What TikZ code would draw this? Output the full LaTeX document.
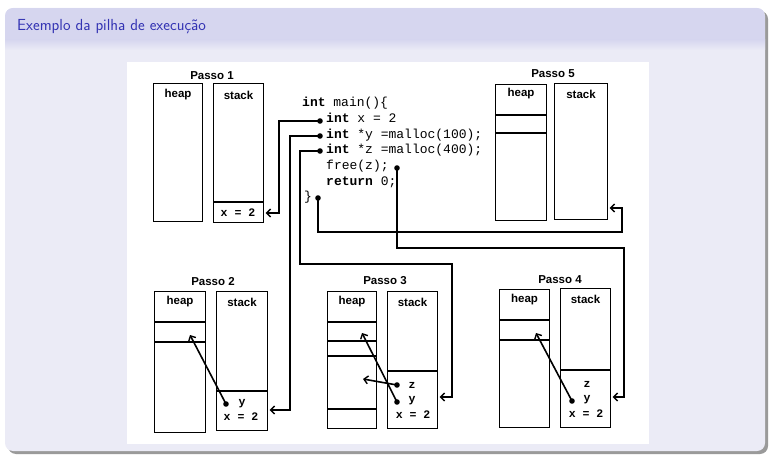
\documentclass[tikz,border=0pt]{standalone}
\usepackage{fontspec}
\newfontfamily\lab{Liberation Sans}
\newfontfamily\code{Liberation Mono}
\usetikzlibrary{arrows.meta}
\definecolor{titlebg}{HTML}{D6D6EF}
\definecolor{bodybg}{HTML}{EBEBF6}
\definecolor{titlefg}{HTML}{3333B3}
\definecolor{shadowc}{HTML}{9A9A9A}
\tikzset{
  box/.style={draw=black, line width=1.1pt, inner sep=0pt, anchor=north west},
  divider/.style={draw=black, line width=1.1pt},
  lbl/.style={font=\lab\bfseries\fontsize{11.5}{13}\selectfont, inner sep=0pt},
  ttl/.style={font=\lab\bfseries\fontsize{11.5}{13}\selectfont, inner sep=0pt},
  val/.style={font=\code\bfseries\fontsize{11.5}{13}\selectfont, inner sep=0pt},
  codeln/.style={font=\code\fontsize{13}{15}\selectfont, inner sep=0pt, anchor=base west},
  wire/.style={draw=black, line width=1.7pt, -{Straight Barb[length=4pt,width=8pt,line width=1.4pt]}},
  ptr/.style={draw=black, line width=1.6pt, -{Straight Barb[length=4pt,width=8pt,line width=1.4pt]}},
  dot/.style={fill=black, circle, inner sep=0pt, minimum size=5.6pt}
}
\begin{document}
\begin{tikzpicture}[x=1pt,y=-1pt]
\useasboundingbox (0,0) rectangle (774,457);
% slide frame
\fill[shadowc, rounded corners=8pt] (8,11) rectangle (768,454);
\fill[bodybg, rounded corners=8pt] (5,8) rectangle (765,451);
\begin{scope}
\clip[rounded corners=8pt] (5,8) rectangle (765,451);
\fill[titlebg] (5,8) rectangle (765,40);
\shade[top color=titlebg, bottom color=bodybg] (5,39.5) rectangle (765,50);
\end{scope}
\node[anchor=base west, inner sep=0pt, text=titlefg, font=\sffamily\fontsize{16}{19}\selectfont] (title) at (17,31) {Exemplo da pilha de execução};
% white figure
\fill[white] (127,62) rectangle (649,444);

% ---------- code ----------
\node[codeln] (c0) at (302,107) {\textbf{int} main()\{};
\node[codeln] (c1) at (326,123) {\textbf{int} x = 2};
\node[codeln] (c2) at (326,139) {\textbf{int} *y =malloc(100);};
\node[codeln] (c3) at (326,154) {\textbf{int} *z =malloc(400);};
\node[codeln] (c4) at (326,170) {free(z);};
\node[codeln] (c5) at (326,186) {\textbf{return} 0;};
\node[codeln] (c6) at (304,201) {\}};
\node[dot] (d1) at (320,121) {};
\node[dot] (d2) at (320,136) {};
\node[dot] (d3) at (320,151) {};
\node[dot] (d4) at (397,168) {};
\node[dot] (d5) at (318,198) {};

% ---------- Passo 1 ----------
\node[ttl] (t1) at (212,76) {Passo 1};
\node[box, minimum width=49pt, minimum height=138pt] (h1) at (153,83) {};
\node[box, minimum width=50pt, minimum height=139pt] (s1) at (213,83) {};
\node[lbl] at (h1.north |- 0,95) {heap};
\node[lbl] at (s1.north |- 0,95) {stack};
\draw[divider] (s1.west |- 0,202) -- (s1.east |- 0,202);
\node[val] (x1) at (238,213) {x = 2};

% ---------- Passo 5 ----------
\node[ttl] (t5) at (553,74) {Passo 5};
\node[box, minimum width=51pt, minimum height=136pt] (h5) at (495,84) {};
\node[box, minimum width=53pt, minimum height=136pt] (s5) at (554,83) {};
\node[lbl] at (h5.north |- 0,94) {heap};
\node[lbl] at (s5.north |- 0,94) {stack};
\draw[divider] (h5.west |- 0,115) -- (h5.east |- 0,115);
\draw[divider] (h5.west |- 0,133) -- (h5.east |- 0,133);

% ---------- Passo 2 ----------
\node[ttl] (t2) at (213,282) {Passo 2};
\node[box, minimum width=51pt, minimum height=141pt] (h2) at (154,291) {};
\node[box, minimum width=51pt, minimum height=139pt] (s2) at (216,291) {};
\node[lbl] at (h2.north |- 0,302) {heap};
\node[lbl] at (s2.north |- 0,302) {stack};
\draw[divider] (h2.west |- 0,322) -- (h2.east |- 0,322);
\draw[divider] (h2.west |- 0,342) -- (h2.east |- 0,342);
\draw[divider] (s2.west |- 0,391) -- (s2.east |- 0,391);
\node[val] (y2) at (242,404) {y};
\node[val] (x2) at (241,417) {x = 2};
\node[dot] (p2) at (226,404) {};
\coordinate (q2) at (190,335);

% ---------- Passo 3 ----------
\node[ttl] (t3) at (385,281) {Passo 3};
\node[box, minimum width=49pt, minimum height=137pt] (h3) at (327,291) {};
\node[box, minimum width=50pt, minimum height=137pt] (s3) at (387,291) {};
\node[lbl] at (h3.north |- 0,302) {heap};
\node[lbl] at (s3.north |- 0,302) {stack};
\draw[divider] (h3.west |- 0,322) -- (h3.east |- 0,322);
\draw[divider] (h3.west |- 0,341) -- (h3.east |- 0,341);
\draw[divider] (h3.west |- 0,356) -- (h3.east |- 0,356);
\draw[divider] (h3.west |- 0,409) -- (h3.east |- 0,409);
\draw[divider] (s3.west |- 0,371) -- (s3.east |- 0,371);
\node[val] (z3) at (412,385) {z};
\node[val] (y3) at (412,401) {y};
\node[val] (x3) at (413,415) {x = 2};
\node[dot] (p3z) at (397,385) {};
\node[dot] (p3y) at (397,402) {};
\coordinate (q3z) at (363,379);
\coordinate (q3y) at (362,333);

% ---------- Passo 4 ----------
\node[ttl] (t4) at (560,280) {Passo 4};
\node[box, minimum width=50pt, minimum height=138pt] (h4) at (499,289) {};
\node[box, minimum width=50pt, minimum height=139pt] (s4) at (560,288) {};
\node[lbl] at (h4.north |- 0,300) {heap};
\node[lbl] at (s4.north |- 0,299) {stack};
\draw[divider] (h4.west |- 0,320) -- (h4.east |- 0,320);
\draw[divider] (h4.west |- 0,340) -- (h4.east |- 0,340);
\draw[divider] (s4.west |- 0,370) -- (s4.east |- 0,370);
\node[val] (z4) at (587,384) {z};
\node[val] (y4) at (587,400) {y};
\node[val] (x4) at (586,414) {x = 2};
\node[dot] (p4) at (572,401) {};
\coordinate (q4) at (536,333);

% ---------- pointers inside steps ----------
\draw[ptr] (p2.center) -- (q2);
\draw[ptr] (p3z.center) -- (q3z);
\draw[ptr] (p3y.center) -- (q3y);
\draw[ptr] (p4.center) -- (q4);

% ---------- wires from code ----------
\draw[wire] (d1.center) -- (279,121) |- ([xshift=1.5pt]s1.east |- x1);
\draw[wire] (d2.center) -- (290,136) |- ([xshift=1.5pt]s2.east |- 0,410);
\draw[wire] (d3.center) -- (300,151) -- (300,264) -- (452,264) |- ([xshift=1.5pt]s3.east |- 0,397);
\draw[wire] (d4.center) -- (397,248) -- (624,248) |- ([xshift=1.5pt]s4.east |- 0,397);
\draw[wire] (d5.center) -- (318,232) -- (622,232) |- ([xshift=1.5pt]s5.east |- 0,208);
\end{tikzpicture}
\end{document}
